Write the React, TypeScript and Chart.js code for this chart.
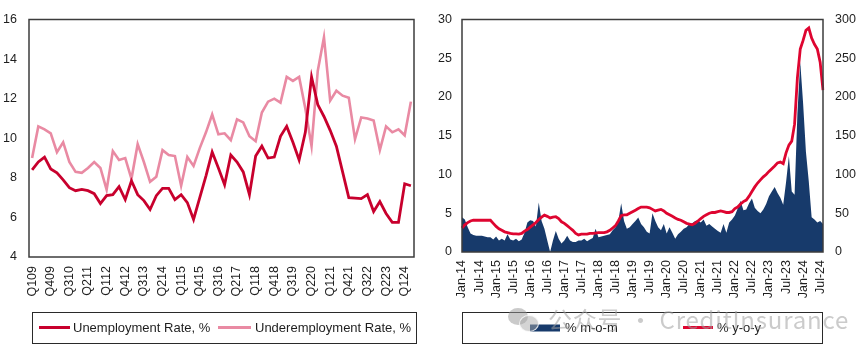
import React, { useEffect, useRef } from 'react';
import { Chart, registerables } from 'chart.js';
Chart.register(...registerables);

// ---------- Left chart data (quarterly, Q1 2009 – Q2 2024) ----------
const quarterLabels: string[] = (() => {
  const out: string[] = [];
  for (let y = 9; y <= 24; y++) {
    for (let q = 1; q <= 4; q++) {
      if (y === 24 && q > 2) break;
      out.push(`Q${q}${String(y).padStart(2, '0')}`);
    }
  }
  return out;
})();

const unemployment: number[] = [
  8.4, 8.8, 9.05, 8.45, 8.25, 7.9, 7.5, 7.35, 7.42, 7.35,
  7.2, 6.7, 7.1, 7.15, 7.55, 6.9, 7.85, 7.15, 6.85, 6.4,
  7.1, 7.47, 7.47, 6.9, 7.15, 6.75, 5.9, 7.0, 8.1, 9.3,
  8.5, 7.65, 9.15, 8.8, 8.3, 7.15, 9.1, 9.6, 9.0, 9.05,
  10.1, 10.6, 9.8, 8.9, 10.3, 13.1, 11.7, 11.1, 10.4, 9.6,
  8.3, 7.0, 6.98, 6.95, 7.15, 6.3, 6.8, 6.2, 5.75, 5.75,
  7.7, 7.6,
];

const underemployment: number[] = [
  9.0, 10.6, 10.45, 10.25, 9.3, 9.8, 8.8, 8.3, 8.25, 8.5,
  8.8, 8.5, 7.4, 9.35, 8.9, 9.0, 7.95, 9.7, 8.8, 7.8,
  8.05, 9.4, 9.15, 9.1, 7.6, 9.05, 8.6, 9.5, 10.3, 11.2,
  10.2, 10.25, 9.9, 10.95, 10.8, 10.1, 9.85, 11.3, 11.85, 12.0,
  11.8, 13.1, 12.9, 13.1, 11.5, 9.6, 13.4, 15.1, 11.9, 12.4,
  12.15, 12.05, 9.95, 11.05, 11.0, 10.9, 9.4, 10.6, 10.3, 10.45,
  10.15, 11.85,
];

const leftTicks = { min: 4, max: 16, step: 2 };

// ---------- Right chart data (monthly, Jan-14 – Aug-24) ----------
const monthNames = ['Jan', 'Feb', 'Mar', 'Apr', 'May', 'Jun', 'Jul', 'Aug', 'Sep', 'Oct', 'Nov', 'Dec'];
const monthLabels: string[] = (() => {
  const out: string[] = [];
  for (let y = 14; y <= 24; y++) {
    for (let m = 0; m < 12; m++) {
      if (y === 24 && m > 7) break;
      out.push(`${monthNames[m]}-${y}`);
    }
  }
  return out;
})();

const momPct: number[] = [
  4.5, 4.2, 3.2, 2.4, 2.2, 2.1, 2.1, 2.1, 2.0, 1.9,
  1.9, 1.6, 2.0, 1.5, 1.7, 1.5, 2.3, 1.6, 1.5, 1.7,
  1.4, 1.6, 2.5, 3.8, 4.1, 4.0, 3.3, 6.4, 4.0, 3.0,
  1.5, 0.0, 1.5, 2.7, 1.7, 1.1, 1.5, 2.1, 1.5, 1.3,
  1.3, 1.5, 1.5, 1.7, 1.4, 1.6, 1.8, 3.0, 1.9, 2.0,
  2.1, 2.2, 2.3, 2.8, 3.2, 4.0, 6.3, 4.0, 3.0, 3.2,
  3.6, 4.0, 4.45, 3.6, 3.2, 2.6, 2.4, 5.0, 4.0, 3.2,
  2.8, 3.6, 2.4, 3.2, 2.5, 1.7, 2.3, 2.6, 3.0, 3.2,
  3.6, 3.7, 4.0, 4.1, 3.8, 4.2, 3.4, 3.6, 3.3, 3.0,
  2.7, 2.5, 3.6, 2.5, 3.8, 4.2, 4.7, 5.6, 6.6, 5.4,
  5.5, 6.3, 6.9, 5.7, 5.3, 5.0, 5.5, 6.2, 7.2, 7.8,
  8.4, 7.6, 7.0, 6.1, 9.0, 12.4, 7.8, 7.4, 17.9, 24.5,
  19.2, 12.9, 9.1, 4.5, 4.2, 3.8, 4.0, 3.6,
];

const yoyPct: number[] = [
  31, 35, 38, 40, 41, 41, 41, 41, 41, 41,
  41, 37, 33, 30, 28, 26, 25, 24, 23.5, 23.5,
  23, 24, 27, 29, 32, 35, 38, 42, 45, 47.5,
  46, 44, 45, 45.5, 43, 39, 37, 34, 31, 28,
  24, 22, 23, 23, 23, 24, 24, 24.5, 25, 25,
  25, 26, 28, 31, 34, 40, 47, 48, 48, 50,
  52, 54, 56, 58, 58, 58, 57, 55, 53, 54,
  55, 53, 50, 48, 46, 44, 42, 41, 39, 37,
  36, 35, 37, 40, 43, 46, 48, 50, 51, 51,
  52, 53, 52, 51, 51, 52, 56, 58, 62, 65,
  67, 72, 78, 84, 89, 93, 97, 100, 104, 107.5,
  111, 115, 116, 114, 128, 138, 143, 165, 225, 262,
  273, 286, 289, 276, 268, 262, 245, 209,
];

const rightTicksLeft = { min: 0, max: 30, step: 5 };
const rightTicksRight = { min: 0, max: 300, step: 50 };

// ---------- styling ----------
const FONT = '"Liberation Sans", Arial, sans-serif';
const TEXT = '#1e1e1e';
const FRAME = '#3c3c3c';
const C_UNEMP = '#C8002D';
const C_UNDER = '#E98AA3';
const C_MOM = '#173A6B';
const C_YOY = '#DE0530';

type LegendItem = { label: string; color: string; kind: 'line' | 'box'; x0: number; x1: number; tx: number };

const framePlugin = {
  id: 'frame',
  afterDatasetsDraw(chart: any) {
    const { ctx, chartArea: a } = chart;
    ctx.save();
    ctx.strokeStyle = FRAME;
    ctx.lineWidth = 1.5;
    ctx.strokeRect(a.left, a.top, a.right - a.left, a.bottom - a.top);
    ctx.restore();
  },
};

const boxLegendPlugin = {
  id: 'boxLegend',
  afterDraw(chart: any, _args: any, opts: any) {
    if (!opts || !opts.box) return;
    const { ctx } = chart;
    const b = opts.box;
    ctx.save();
    ctx.strokeStyle = '#2a2a2a';
    ctx.lineWidth = 1;
    ctx.strokeRect(b.left + 0.5, b.top + 0.5, b.right - b.left, b.bottom - b.top);
    const cy = (b.top + b.bottom) / 2;
    (opts.items as LegendItem[]).forEach((it) => {
      if (it.kind === 'line') {
        ctx.strokeStyle = it.color;
        ctx.lineWidth = 3;
        ctx.beginPath();
        ctx.moveTo(it.x0, cy);
        ctx.lineTo(it.x1, cy);
        ctx.stroke();
      } else {
        ctx.fillStyle = it.color;
        ctx.fillRect(it.x0, cy - 3, it.x1 - it.x0, 7);
      }
      ctx.fillStyle = TEXT;
      ctx.font = `13px ${FONT}`;
      ctx.textBaseline = 'middle';
      ctx.textAlign = 'left';
      ctx.fillText(it.label, it.tx, cy + 1);
    });
    ctx.restore();
  },
};

function LeftChart() {
  const ref = useRef<HTMLCanvasElement>(null);
  useEffect(() => {
    const chart = new Chart(ref.current!, {
      type: 'line',
      data: {
        labels: quarterLabels,
        datasets: [
          {
            label: 'Unemployment Rate, %',
            data: unemployment,
            borderColor: C_UNEMP,
            borderWidth: 2.8,
            pointRadius: 0,
            tension: 0,
            order: 1,
          },
          {
            label: 'Underemployment Rate, %',
            data: underemployment,
            borderColor: C_UNDER,
            borderWidth: 2.6,
            pointRadius: 0,
            tension: 0,
            order: 2,
          },
        ],
      },
      options: {
        responsive: false,
        animation: false,
        devicePixelRatio: 1,
        layout: { padding: { top: 14, right: 16, left: 0, bottom: 0 } },
        plugins: {
          legend: { display: false },
          tooltip: { enabled: false },
          boxLegend: {
            box: { left: 32, top: 312, right: 416, bottom: 343 },
            items: [
              { label: 'Unemployment Rate, %', color: C_UNEMP, kind: 'line', x0: 39, x1: 70, tx: 73 },
              { label: 'Underemployment Rate, %', color: C_UNDER, kind: 'line', x0: 218, x1: 251, tx: 255 },
            ],
          },
        } as any,
        scales: {
          x: {
            type: 'category',
            offset: true,
            grid: { display: false, drawTicks: false },
            border: { display: false },
            ticks: {
              autoSkip: false,
              minRotation: 90,
              maxRotation: 90,
              padding: 9,
              color: TEXT,
              font: { family: FONT, size: 12.5 },
              callback: (_v: any, i: number) => (i % 3 === 0 ? quarterLabels[i] : null),
            },
            afterFit: (s: any) => { s.height = 96; },
          },
          y: {
            min: leftTicks.min,
            max: leftTicks.max,
            grid: { display: false, drawTicks: false },
            border: { display: false },
            ticks: { stepSize: leftTicks.step, padding: 12, color: TEXT, font: { family: FONT, size: 12.5 } },
            afterFit: (s: any) => { s.width = 29; },
          },
        },
      },
      plugins: [framePlugin, boxLegendPlugin],
    });
    return () => chart.destroy();
  }, []);
  return <canvas ref={ref} width={430} height={353} style={{ display: 'block', width: 430, height: 353 }} />;
}

function RightChart() {
  const ref = useRef<HTMLCanvasElement>(null);
  useEffect(() => {
    const chart = new Chart(ref.current!, {
      type: 'line',
      data: {
        labels: monthLabels,
        datasets: [
          {
            label: '% m-o-m',
            data: momPct,
            yAxisID: 'y',
            borderWidth: 0,
            borderColor: C_MOM,
            backgroundColor: C_MOM,
            fill: 'origin',
            pointRadius: 0,
            tension: 0,
            order: 2,
          },
          {
            label: '% y-o-y',
            data: yoyPct,
            yAxisID: 'y1',
            borderColor: C_YOY,
            borderWidth: 2.8,
            pointRadius: 0,
            tension: 0,
            fill: false,
            order: 1,
          },
        ],
      },
      options: {
        responsive: false,
        animation: false,
        devicePixelRatio: 1,
        layout: { padding: { top: 14, right: 0, left: 0, bottom: 0 } },
        plugins: {
          legend: { display: false },
          tooltip: { enabled: false },
          boxLegend: {
            box: { left: 32, top: 312, right: 392, bottom: 343 },
            items: [
              { label: '% m-o-m', color: C_MOM, kind: 'box', x0: 100, x1: 130, tx: 135 },
              { label: '% y-o-y', color: C_YOY, kind: 'line', x0: 253, x1: 283, tx: 287 },
            ],
          },
        } as any,
        scales: {
          x: {
            type: 'category',
            offset: false,
            grid: { display: false, drawTicks: false },
            border: { display: false },
            ticks: {
              autoSkip: false,
              minRotation: 90,
              maxRotation: 90,
              padding: 8,
              color: TEXT,
              font: { family: FONT, size: 12.5 },
              callback: (_v: any, i: number) => (i % 6 === 0 ? monthLabels[i] : null),
            },
            afterFit: (s: any) => { s.height = 101; },
          },
          y: {
            position: 'left',
            min: rightTicksLeft.min,
            max: rightTicksLeft.max,
            grid: { display: false, drawTicks: false },
            border: { display: false },
            ticks: { stepSize: rightTicksLeft.step, padding: 10, color: TEXT, font: { family: FONT, size: 12.5 } },
            afterFit: (s: any) => { s.width = 32; },
          },
          y1: {
            position: 'right',
            min: rightTicksRight.min,
            max: rightTicksRight.max,
            grid: { display: false, drawTicks: false },
            border: { display: false },
            ticks: { stepSize: rightTicksRight.step, padding: 12, color: TEXT, font: { family: FONT, size: 12.5 } },
            afterFit: (s: any) => { s.width = 42; },
          },
        },
      },
      plugins: [framePlugin, boxLegendPlugin],
    });
    return () => chart.destroy();
  }, []);
  return <canvas ref={ref} width={435} height={353} style={{ display: 'block', width: 435, height: 353 }} />;
}

export default function App() {
  useEffect(() => {
    document.body.style.margin = '0';
  }, []);
  return (
    <div style={{ position: 'absolute', left: 0, top: 0, width: 865, height: 353, background: '#fff', overflow: 'hidden' }}>
      <div style={{ display: 'flex' }}>
        <LeftChart />
        <RightChart />
      </div>
      <div
        style={{
          position: 'absolute',
          left: 508,
          top: 301,
          display: 'flex',
          alignItems: 'center',
          pointerEvents: 'none',
          color: 'rgba(160,160,160,0.55)',
          fontSize: 24,
          letterSpacing: 0.8,
          fontFamily: '"Noto Sans CJK SC", "Open Sans", sans-serif',
          whiteSpace: 'nowrap',
        }}
      >
        <div style={{ position: 'relative', width: 30, height: 26, marginRight: 10 }}>
          <div style={{ position: 'absolute', left: 0, top: 2, width: 20, height: 17, borderRadius: '50%', background: 'rgba(150,150,150,0.5)' }} />
          <div style={{ position: 'absolute', left: 11, top: 9, width: 18, height: 15, borderRadius: '50%', background: 'rgba(170,170,170,0.5)', border: '1.5px solid rgba(255,255,255,0.8)' }} />
        </div>
        <span>公众号 · CreditInsurance</span>
      </div>
    </div>
  );
}
